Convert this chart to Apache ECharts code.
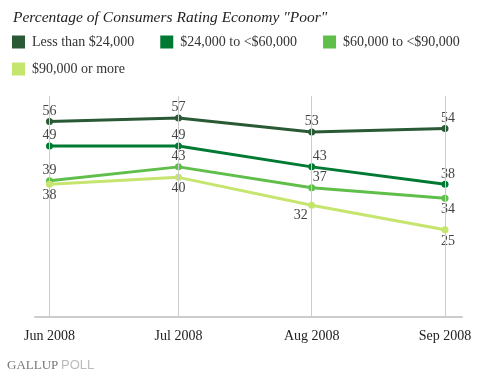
<!DOCTYPE html>
<html><head><meta charset="utf-8">
<script src="https://cdn.jsdelivr.net/npm/echarts@6/dist/echarts.min.js"></script>
<style>html,body{margin:0;padding:0;background:#fff}#c{width:493px;height:379px}</style>
</head><body><div id="c"></div>
<script>
var monthLabels = ['Jun 2008', 'Jul 2008', 'Aug 2008', 'Sep 2008'];
var dayOffsets = [0, 30, 61, 92];
var seriesNames = ['Less than $24,000', '$24,000 to <$60,000', '$60,000 to <$90,000', '$90,000 or more'];
var under24 = [56, 57, 53, 54];
var from24to60 = [49, 49, 43, 38];
var from60to90 = [39, 43, 37, 34];
var over90 = [38, 40, 32, 25];
var colors = ['#2a5a35', '#007a33', '#5fbf4a', '#c5e56e'];
var labelPos = [
  ['top', 'top', 'top', 'topSep'],
  ['top', 'top', 'topRight', 'topSep'],
  ['top', 'top', 'topRight', 'bottomSep'],
  ['bottom', 'bottom', 'bottomLeft', 'bottomSep']
];
var allValues = [under24, from24to60, from60to90, over90];
var serif = '"Liberation Serif", "DejaVu Serif", serif';

function posCfg(p) {
  if (p === 'topRight') return {position: 'top', offset: [8, 0]};
  if (p === 'bottomLeft') return {position: 'bottom', offset: [-11, 0]};
  if (p === 'topSep') return {position: 'top', offset: [3, 0]};
  if (p === 'bottomSep') return {position: 'bottom', offset: [3, 1]};
  return {position: p};
}

var series = allValues.map(function (vals, i) {
  return {
    name: seriesNames[i], type: 'line', z: 3,
    data: vals.map(function (v, j) {
      var c = posCfg(labelPos[i][j]);
      return {value: [dayOffsets[j], v], label: {show: true, position: c.position, offset: c.offset || [0, 0]}};
    }),
    symbol: 'circle', symbolSize: 7,
    itemStyle: {color: colors[i]},
    lineStyle: {color: colors[i], width: 3},
    label: {color: '#444', fontFamily: serif, fontSize: 14, distance: 0,
      formatter: function (p) { return p.value[1]; }},
    emphasis: {disabled: true}, animation: false
  };
});
series.unshift({
  type: 'line', data: [], z: 1, silent: true,
  markLine: {silent: true, symbol: 'none', label: {show: false},
    lineStyle: {color: '#cccccc', width: 1, type: 'solid'},
    data: dayOffsets.map(function (d) { return {xAxis: d}; })},
  animation: false
});

var legendText = {fontFamily: serif, fontSize: 14, color: '#333', padding: [0, 0, 0, 2]};
var chart = echarts.init(document.getElementById('c'));
chart.setOption({
  animation: false,
  title: {text: 'Percentage of Consumers Rating Economy "Poor"', left: 8, top: 5,
    textStyle: {fontFamily: serif, fontStyle: 'italic', fontWeight: 'normal', fontSize: 15.5, color: '#222'}},
  legend: [
    {left: 7, top: 30, itemWidth: 13, itemHeight: 13, itemGap: 26, icon: 'rect',
      data: seriesNames.slice(0, 3), textStyle: legendText},
    {left: 7, top: 57, itemWidth: 13, itemHeight: 13, icon: 'rect',
      data: seriesNames.slice(3), textStyle: legendText}
  ],
  grid: {left: 35, right: 31, top: 96, bottom: 62},
  xAxis: {type: 'value', min: -3.37, max: 95.95,
    axisLine: {show: true, lineStyle: {color: '#cccccc', width: 2}},
    axisTick: {show: false}, splitLine: {show: false},
    axisLabel: {customValues: dayOffsets, fontFamily: serif, fontSize: 14, color: '#222', margin: 12,
      formatter: function (v) { var k = dayOffsets.indexOf(v); return k >= 0 ? monthLabels[k] : ''; }}},
  yAxis: {type: 'value', min: 0, max: 63.3, show: false, splitLine: {show: false}},
  graphic: [
    {type: 'text', left: 7, top: 359, style: {text: 'GALLUP', fontFamily: serif, fontSize: 13, fill: '#777'}},
    {type: 'text', left: 61, top: 359, style: {text: 'POLL', fontFamily: '"Liberation Sans", sans-serif', fontSize: 13, fill: '#bbb'}}
  ],
  series: series
});
</script></body></html>
